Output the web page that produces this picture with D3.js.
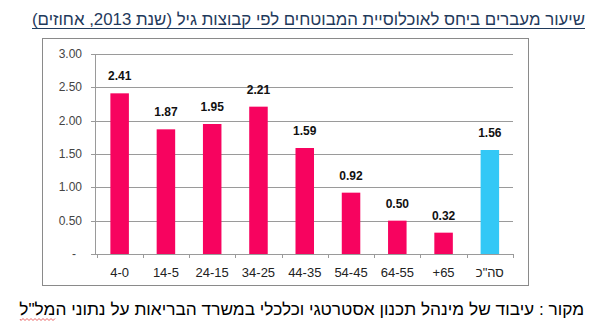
<!DOCTYPE html>
<html><head><meta charset="utf-8">
<script src="https://cdn.jsdelivr.net/npm/d3@7"></script>
<style>html,body{margin:0;padding:0;background:#fff;}svg{display:block;}</style>
</head><body>
<script>
const categories = ["4-0","14-5","24-15","34-25","44-35","54-45","64-55","+65","סה\"כ"];
const values = [2.41,1.87,1.95,2.21,1.59,0.92,0.50,0.32,1.56];
const yTicks = [0,0.5,1,1.5,2,2.5,3];
const yTickLabels = ["-","0.50","1.00","1.50","2.00","2.50","3.00"];
const titleText = "שיעור מעברים ביחס לאוכלוסיית המבוטחים לפי קבוצות גיל (שנת 2013, אחוזים)";
const sourceText = "מקור : עיבוד של מינהל תכנון אסטרטגי וכלכלי במשרד הבריאות על נתוני המל\"ל";

const W = 594, H = 327;
const svg = d3.select("body").append("svg").attr("width", W).attr("height", H);
const font = "'Liberation Sans', Arial, 'DejaVu Sans', sans-serif";

// frame
svg.append("rect").attr("x",42.5).attr("y",38.5).attr("width",486).attr("height",247)
  .attr("fill","#fff").attr("stroke","#8a8a8a").attr("stroke-width",1);

const x = d3.scaleBand().domain(categories).range([96.5,513]).padding(0);
const y = d3.scaleLinear().domain([0,3]).range([254,54]);
const barW = x.bandwidth()*0.4;

// gridlines
svg.append("g").selectAll("line").data(yTicks.slice(1)).join("line")
  .attr("x1",91).attr("x2",513)
  .attr("y1",d=>Math.round(y(d))+0.5).attr("y2",d=>Math.round(y(d))+0.5)
  .attr("stroke","#9a9a9a").attr("stroke-width",1);

// y axis line
svg.append("line").attr("x1",95.5).attr("x2",95.5).attr("y1",y(3)).attr("y2",y(0))
  .attr("stroke","#9a9a9a");

// y tick labels
svg.append("g").selectAll("text").data(yTicks).join("text")
  .attr("x",(d,i)=> i===0 ? 76 : 82)
  .attr("y",d=>y(d)+4)
  .attr("text-anchor","end")
  .attr("font-family",font).attr("font-size",12).attr("fill","#444")
  .text((d,i)=>yTickLabels[i]);

// bars
svg.append("g").selectAll("rect").data(values).join("rect")
  .attr("x",(d,i)=>x(categories[i])+x.bandwidth()/2-barW/2)
  .attr("width",barW)
  .attr("y",d=>y(d))
  .attr("height",d=>y(0)-y(d))
  .attr("fill",(d,i)=> i===categories.length-1 ? "#33c8f6" : "#f7035f");

// x axis baseline
svg.append("line").attr("x1",91).attr("x2",513).attr("y1",254.5).attr("y2",254.5)
  .attr("stroke","#9a9a9a");
// x ticks at band boundaries
const bounds = categories.map(c=>x(c)).concat([x(categories[categories.length-1])+x.bandwidth()]);
svg.append("g").selectAll("line").data(bounds).join("line")
  .attr("x1",d=>Math.round(d)+0.5).attr("x2",d=>Math.round(d)+0.5)
  .attr("y1",254).attr("y2",258).attr("stroke","#9a9a9a");

// x labels
svg.append("g").selectAll("text").data(categories).join("text")
  .attr("x",d=>x(d)+x.bandwidth()/2)
  .attr("y",277)
  .attr("text-anchor","middle")
  .attr("font-family",font).attr("font-size",13).attr("fill","#222")
  .text(d=>d);

// value labels
svg.append("g").selectAll("text").data(values).join("text")
  .attr("x",(d,i)=>x(categories[i])+x.bandwidth()/2)
  .attr("y",d=>y(d)-13)
  .attr("text-anchor","middle")
  .attr("font-family",font).attr("font-size",12).attr("font-weight","bold").attr("fill","#111")
  .text(d=>d.toFixed(2));

// title
svg.append("text").attr("x",308.5).attr("y",25)
  .attr("text-anchor","middle").attr("direction","rtl")
  .attr("font-family",font).attr("font-size",17).attr("fill","#1f3a5c")
  .attr("textLength",553).attr("lengthAdjust","spacingAndGlyphs")
  .text(titleText);
svg.append("line").attr("x1",32).attr("x2",585).attr("y1",28.5).attr("y2",28.5)
  .attr("stroke","#1f3a5c").attr("stroke-width",1);

// source
svg.append("text").attr("x",301.75).attr("y",315)
  .attr("text-anchor","middle").attr("direction","rtl")
  .attr("font-family",font).attr("font-size",17).attr("fill","#000")
  .attr("textLength",565).attr("lengthAdjust","spacingAndGlyphs")
  .text(sourceText);

// spell-check squiggle under last word
let sq = "M20,319";
for (let xx = 20; xx < 56; xx += 2) sq += ` L${xx+1},${(xx/2)%2===0?320.5:318.5}`;
svg.append("path").attr("d",sq).attr("fill","none").attr("stroke","#e23b3b").attr("stroke-width",0.8);
</script>
</body></html>
